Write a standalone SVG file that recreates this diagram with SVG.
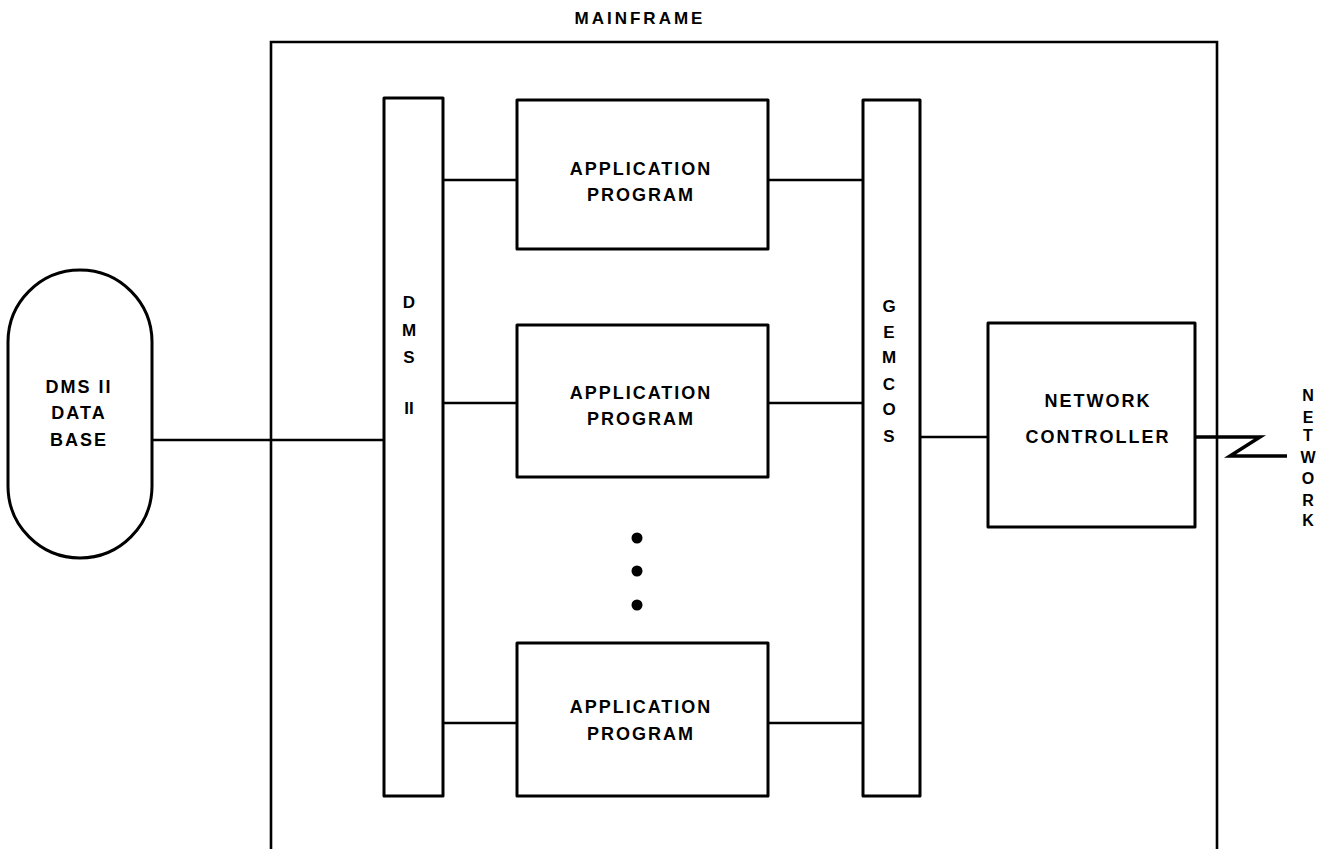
<svg xmlns="http://www.w3.org/2000/svg" width="1322" height="849" viewBox="0 0 1322 849">
<style>
.box{fill:#fff;stroke:#000;stroke-width:3;stroke-linejoin:round}
.ln{fill:none;stroke:#000;stroke-width:2.6}
.t{font-family:"Liberation Sans",Arial,sans-serif;font-weight:bold;font-size:18px;letter-spacing:2px;text-anchor:middle;fill:#000}
.v{font-family:"Liberation Sans",Arial,sans-serif;font-weight:bold;font-size:17px;text-anchor:middle;fill:#000}
</style>
<rect width="1322" height="849" fill="#fff"/>
<g id="mainframe">
<path class="ln" d="M271,849 V42 H1217 V849"/>
<text class="t" x="640" y="24" style="font-size:17px;letter-spacing:3px">MAINFRAME</text>
</g>
<g id="connectors">
<line class="ln" x1="152" y1="440" x2="384" y2="440"/>
<line class="ln" x1="443" y1="180" x2="517" y2="180"/>
<line class="ln" x1="443" y1="403" x2="517" y2="403"/>
<line class="ln" x1="443" y1="723" x2="517" y2="723"/>
<line class="ln" x1="768" y1="180" x2="863" y2="180"/>
<line class="ln" x1="768" y1="403" x2="863" y2="403"/>
<line class="ln" x1="768" y1="723" x2="863" y2="723"/>
<line class="ln" x1="920" y1="437" x2="988" y2="437"/>
<path d="M1195,437 H1260 L1230,456 H1287" fill="none" stroke="#000" stroke-width="3.5" stroke-linejoin="miter"/>
</g>
<g id="database">
<rect class="box" x="8" y="270" width="144" height="288" rx="72" ry="72"/>
<text class="t" x="79" y="393">DMS II</text>
<text class="t" x="79" y="419">DATA</text>
<text class="t" x="79" y="446">BASE</text>
</g>
<g id="dms">
<rect class="box" x="384" y="98" width="59" height="698"/>
<text class="v" x="409" y="308">D</text>
<text class="v" x="409" y="336">M</text>
<text class="v" x="409" y="363">S</text>
<text class="v" x="409" y="414">II</text>
</g>
<g id="app1">
<rect class="box" x="517" y="100" width="251" height="149"/>
<text class="t" x="641" y="175">APPLICATION</text>
<text class="t" x="641" y="201">PROGRAM</text>
</g>
<g id="app2">
<rect class="box" x="517" y="325" width="251" height="152"/>
<text class="t" x="641" y="399">APPLICATION</text>
<text class="t" x="641" y="425">PROGRAM</text>
</g>
<g id="ellipsis">
<circle cx="637" cy="538" r="5.5"/>
<circle cx="637" cy="571" r="5.5"/>
<circle cx="637" cy="605" r="5.5"/>
</g>
<g id="app3">
<rect class="box" x="517" y="643" width="251" height="153"/>
<text class="t" x="641" y="713">APPLICATION</text>
<text class="t" x="641" y="740">PROGRAM</text>
</g>
<g id="gemcos">
<rect class="box" x="863" y="100" width="57" height="696"/>
<text class="v" x="889" y="312">G</text>
<text class="v" x="889" y="338">E</text>
<text class="v" x="889" y="363">M</text>
<text class="v" x="889" y="390">C</text>
<text class="v" x="889" y="415">O</text>
<text class="v" x="889" y="442">S</text>
</g>
<g id="netctl">
<rect class="box" x="988" y="323" width="207" height="204"/>
<text class="t" x="1098" y="407">NETWORK</text>
<text class="t" x="1098" y="443">CONTROLLER</text>
</g>
<g id="network">
<text class="v" x="1308" y="401" style="font-size:16px">N</text>
<text class="v" x="1308" y="423" style="font-size:16px">E</text>
<text class="v" x="1308" y="441" style="font-size:16px">T</text>
<text class="v" x="1308" y="463" style="font-size:16px">W</text>
<text class="v" x="1308" y="484" style="font-size:16px">O</text>
<text class="v" x="1308" y="506" style="font-size:16px">R</text>
<text class="v" x="1308" y="526" style="font-size:16px">K</text>
</g>
</svg>
